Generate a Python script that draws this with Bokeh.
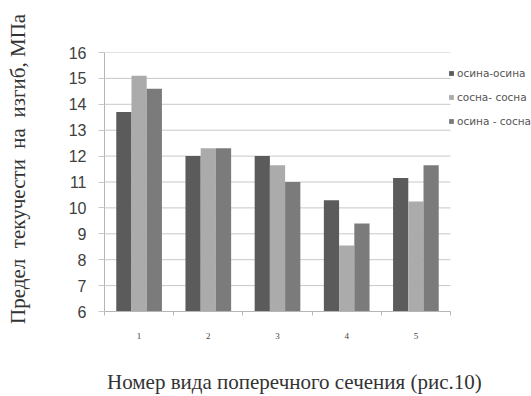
from bokeh.plotting import figure
from bokeh.models import Range1d, FixedTicker, Legend, LegendItem
from bokeh.transform import dodge
from bokeh.embed import file_html
from bokeh.resources import INLINE

# Cross-section type numbers
sections = [1, 2, 3, 4, 5]
section_labels = {1: "1", 2: "2", 3: "3", 4: "4", 5: "5"}
y_ticks = list(range(6, 17))

# Yield strength in bending, MPa, per glued-joint combination
aspen_aspen = [13.7, 12.0, 12.0, 10.3, 11.15]
pine_pine = [15.1, 12.3, 11.65, 8.55, 10.25]
aspen_pine = [14.6, 12.3, 11.0, 9.4, 11.65]

series_names = ["осина-осина", "сосна- сосна", "осина - сосна"]
series_colors = ["#5b5b5b", "#ababab", "#7b7b7b"]

# Non-breaking spaces widen the word gaps and nudge the centred titles
NB = "\u00a0"
y_title = NB * 5 + "Предел" + NB * 2 + "текучести" + NB * 2 + "на" + NB * 2 + "изгиб, МПа"
x_title = "Номер вида поперечного сечения (рис.10)" + NB * 9

# The frame runs to the right edge so the legend has room; the category
# axis occupies only the first 346 px of it.
x_lo, x_hi = 0.5, 5.5
x_end = x_lo + (x_hi - x_lo) * 427 / 346

p = figure(
    width=531, height=396,
    output_backend="svg", toolbar_location=None,
    x_range=Range1d(x_lo, x_end), y_range=Range1d(6, 16),
    min_border_left=104, min_border_right=0,
    min_border_top=52, min_border_bottom=81,
)
p.outline_line_color = None
p.background_fill_color = "white"
p.border_fill_color = "white"

# Horizontal grid lines across the category area only
p.xgrid.grid_line_color = None
p.ygrid.grid_line_color = None
p.segment(x0=x_lo, x1=x_hi, y0=y_ticks, y1=y_ticks, line_color="#c8c8c8", line_width=1)

data = dict(x=sections, a=aspen_aspen, b=pine_pine, c=aspen_pine)
bar_w = 0.22
renderers = []
for key, off, color in zip(["a", "b", "c"], [-bar_w, 0.0, bar_w], series_colors):
    r = p.vbar(x=dodge("x", off, range=p.x_range), top=key, bottom=6,
               width=bar_w, source=data, fill_color=color, line_color=None)
    renderers.append(r)

# Y axis
p.yaxis.ticker = FixedTicker(ticks=y_ticks)
p.yaxis.axis_line_color = "#b5b5b5"
p.yaxis.major_tick_line_color = "#c8c8c8"
p.yaxis.major_tick_out = 6
p.yaxis.major_tick_in = 0
p.yaxis.minor_tick_line_color = None
p.yaxis.major_label_text_font = "Liberation Sans"
p.yaxis.major_label_text_font_size = "16px"
p.yaxis.major_label_text_color = "#404040"
p.yaxis.major_label_standoff = 12
p.yaxis.axis_label = y_title
p.yaxis.axis_label_text_font = "Liberation Serif"
p.yaxis.axis_label_text_font_style = "normal"
p.yaxis.axis_label_text_font_size = "21px"
p.yaxis.axis_label_text_color = "#333333"
p.yaxis.axis_label_standoff = 36

# X axis
p.xaxis.bounds = (x_lo, x_hi)
p.xaxis.ticker = FixedTicker(ticks=sections, minor_ticks=[0.5, 1.5, 2.5, 3.5, 4.5, 5.5])
p.xaxis.major_label_overrides = section_labels
p.xaxis.axis_line_color = "#b5b5b5"
p.xaxis.major_tick_line_color = None
p.xaxis.minor_tick_line_color = "#b5b5b5"
p.xaxis.minor_tick_out = 4
p.xaxis.minor_tick_in = 0
p.xaxis.major_label_text_font = "Liberation Serif"
p.xaxis.major_label_text_font_size = "9px"
p.xaxis.major_label_text_color = "#444444"
p.xaxis.major_label_standoff = 15
p.xaxis.axis_label = x_title
p.xaxis.axis_label_text_font = "Liberation Serif"
p.xaxis.axis_label_text_font_style = "normal"
p.xaxis.axis_label_text_font_size = "21px"
p.xaxis.axis_label_text_color = "#333333"
p.xaxis.axis_label_standoff = 28

# Legend to the right of the bars
legend = Legend(
    items=[LegendItem(label=n, renderers=[r]) for n, r in zip(series_names, renderers)],
    location=(344, 184),
    orientation="vertical",
    glyph_width=6, glyph_height=6,
    label_height=12, label_standoff=3,
    spacing=12, padding=0, margin=0,
    border_line_color=None, background_fill_alpha=0,
    label_text_font="DejaVu Sans", label_text_font_size="10.5px",
    label_text_color="#555555",
)
p.add_layout(legend)

open("out.html", "w").write(file_html(p, INLINE))
